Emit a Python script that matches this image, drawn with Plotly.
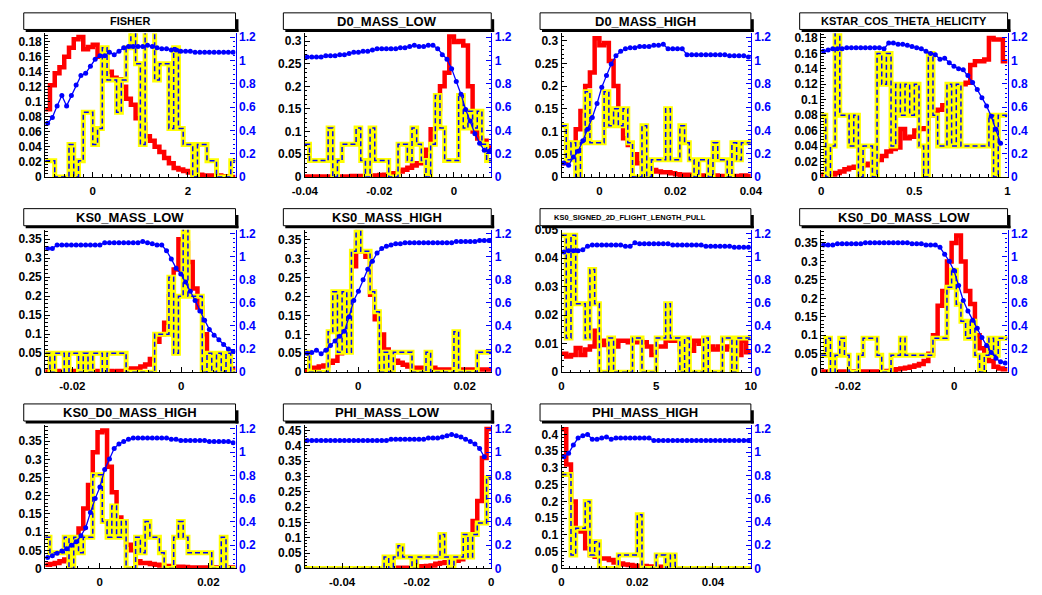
import numpy as np
import plotly.graph_objects as go

# ---------------- data ----------------
TITLES = ["FISHER", "D0_MASS_LOW", "D0_MASS_HIGH", "KSTAR_COS_THETA_HELICITY",
          "KS0_MASS_LOW", "KS0_MASS_HIGH", "KS0_SIGNED_2D_FLIGHT_LENGTH_PULL", "KS0_D0_MASS_LOW",
          "KS0_D0_MASS_HIGH", "PHI_MASS_LOW", "PHI_MASS_HIGH"]

XLIM = [(-1, 3), (-0.04, 0.01), (-0.01, 0.04), (0, 1),
        (-0.025, 0.01), (-0.01, 0.025), (0, 10), (-0.025, 0.01),
        (-0.01, 0.025), (-0.05, 0), (0, 0.05)]
YMAX = [0.191, 0.317, 0.316, 0.186, 0.375, 0.377, 0.050, 0.386, 0.395, 0.468, 0.428]
Y2MAX = 1.233

XTICK_LABELS = [["0", "2"], ["-0.04", "-0.02", "0"], ["0", "0.02", "0.04"], ["0", "0.5", "1"],
                ["-0.02", "0"], ["0", "0.02"], ["0", "5", "10"], ["-0.02", "0"],
                ["0", "0.02"], ["-0.04", "-0.02", "0"], ["0", "0.02", "0.04"]]
YT_SMALL = ["0", "0.02", "0.04", "0.06", "0.08", "0.1", "0.12", "0.14", "0.16", "0.18"]
YT_30 = ["0", "0.05", "0.1", "0.15", "0.2", "0.25", "0.3"]
YT_35 = ["0", "0.05", "0.1", "0.15", "0.2", "0.25", "0.3", "0.35"]
YT_FL = ["0", "0.01", "0.02", "0.03", "0.04", "0.05"]
YT_45 = ["0", "0.05", "0.1", "0.15", "0.2", "0.25", "0.3", "0.35", "0.4", "0.45"]
YT_40 = ["0", "0.05", "0.1", "0.15", "0.2", "0.25", "0.3", "0.35", "0.4"]
YTICK_LABELS = [YT_SMALL, YT_30, YT_30, YT_SMALL, YT_35, YT_35, YT_FL, YT_35, YT_35, YT_45, YT_40]
Y2TICK_LABELS = ["0", "0.2", "0.4", "0.6", "0.8", "1", "1.2"]

FISHER_BKG = [0.090, 0.122, 0.138, 0.146, 0.160, 0.172, 0.183, 0.186, 0.170, 0.173,
              0.176, 0.160, 0.166, 0.140, 0.132, 0.130, 0.120, 0.104, 0.096, 0.078,
              0.070, 0.054, 0.048, 0.040, 0.033, 0.025, 0.018, 0.012, 0.010, 0.008,
              0.006, 0.004, 0.003, 0.002, 0.002, 0.001, 0.002, 0.001, 0.001, 0.000]
FISHER_SIG = [0.0215, 0.0215, 0, 0, 0, 0.043, 0, 0.0215, 0.086, 0.086,
              0.043, 0.0645, 0.172, 0.129, 0.129, 0.086, 0.129, 0.172, 0.21, 0.1505,
              0.043, 0.21, 0.21, 0.129, 0.1505, 0.1505, 0.0645, 0.172, 0.0645, 0.043,
              0.043, 0, 0.043, 0.043, 0.0215, 0.0215, 0, 0, 0, 0.0215]
FISHER_EFF = [0.46, 0.51, 0.61, 0.70, 0.61, 0.70, 0.79, 0.87, 0.89, 0.95,
              1.01, 1.04, 1.04, 1.07, 1.05, 1.08, 1.11, 1.12, 1.12, 1.12,
              1.12, 1.13, 1.12, 1.11, 1.10, 1.10, 1.09, 1.09, 1.08, 1.08,
              1.08, 1.07, 1.07, 1.07, 1.07, 1.07, 1.07, 1.07, 1.07, 1.07]

D0LOW_BKG = [0.001, 0.001, 0.001, 0.001, 0.001, 0.001, 0.001, 0.001, 0.001, 0.001,
             0.002, 0.002, 0.002, 0.002, 0.002, 0.003, 0.004, 0.005, 0.006, 0.008,
             0.012, 0.016, 0.020, 0.025, 0.030, 0.040, 0.060, 0.105, 0.150, 0.200,
             0.230, 0.310, 0.298, 0.300, 0.290, 0.200, 0.100, 0.085, 0.080, 0.065]
D0LOW_SIG = [0.072, 0.036, 0.036, 0.036, 0.036, 0.108, 0, 0.036, 0.072, 0.072,
             0.072, 0.108, 0.036, 0, 0.108, 0.036, 0.036, 0.036, 0, 0,
             0.072, 0.072, 0.036, 0.108, 0.072, 0.036, 0, 0.072, 0.18, 0.108,
             0.036, 0.036, 0.036, 0.18, 0.108, 0.145, 0.108, 0.145, 0.072, 0.036]
D0LOW_EFF = [1.03, 1.03, 1.03, 1.03, 1.04, 1.04, 1.04, 1.05, 1.05, 1.06,
             1.07, 1.07, 1.08, 1.08, 1.09, 1.10, 1.10, 1.10, 1.10, 1.10,
             1.11, 1.11, 1.12, 1.13, 1.12, 1.12, 1.13, 1.13, 1.10, 1.05,
             1.01, 0.93, 0.82, 0.71, 0.58, 0.48, 0.37, 0.29, 0.23, 0.22]

D0HIGH_BKG = [0.030, 0.040, 0.070, 0.105, 0.145, 0.200, 0.230, 0.305, 0.290, 0.295,
              0.255, 0.200, 0.130, 0.085, 0.070, 0.050, 0.030, 0.022, 0.018, 0.015,
              0.012, 0.010, 0.010, 0.008, 0.006, 0.005, 0.005, 0.004, 0.004, 0.003,
              0.003, 0.003, 0.003, 0.002, 0.002, 0.002, 0.002, 0.002, 0.003, 0.002]
D0HIGH_SIG = [0.1125, 0.0375, 0.075, 0, 0.075, 0.1875, 0.075, 0.075, 0.075, 0.1875,
              0.1125, 0.15, 0.1125, 0.15, 0.075, 0, 0, 0.1125, 0, 0.0375,
              0.0375, 0.0375, 0.15, 0.0375, 0.0375, 0.1125, 0.075, 0.0375, 0, 0.0375,
              0.0375, 0, 0.075, 0.0375, 0.0375, 0, 0.075, 0.0375, 0.075, 0.075]
D0HIGH_EFF = [0.12, 0.10, 0.17, 0.22, 0.31, 0.41, 0.51, 0.63, 0.77, 0.87,
              0.97, 1.04, 1.08, 1.10, 1.11, 1.11, 1.12, 1.12, 1.12, 1.13,
              1.13, 1.14, 1.10, 1.10, 1.10, 1.10, 1.05, 1.05, 1.05, 1.05,
              1.05, 1.05, 1.05, 1.05, 1.05, 1.04, 1.04, 1.04, 1.04, 1.03]

KSTAR_BKG = [0.003, 0.002, 0.003, 0.005, 0.007, 0.010, 0.012, 0.013, 0.014, 0.015,
             0.017, 0.020, 0.022, 0.027, 0.033, 0.036, 0.038, 0.062, 0.050, 0.052,
             0.060, 0.062, 0.063, 0.080, 0.082, 0.087, 0.093, 0.100, 0.110, 0.115,
             0.120, 0.122, 0.145, 0.150, 0.150, 0.152, 0.180, 0.178, 0.178, 0.150]
KSTAR_SIG = [0.08, 0, 0.04, 0.2, 0.08, 0.08, 0.04, 0.08, 0, 0.04,
             0.04, 0, 0.16, 0.12, 0.16, 0.04, 0.12, 0.08, 0.12, 0.08,
             0.12, 0.04, 0, 0.16, 0.08, 0.04, 0.04, 0.12, 0.04, 0.12,
             0.04, 0.04, 0.04, 0.04, 0.04, 0.04, 0.08, 0, 0.08, 0.08]
KSTAR_EFF = [1.08, 1.09, 1.10, 1.10, 1.10, 1.11, 1.11, 1.11, 1.11, 1.11,
             1.11, 1.11, 1.11, 1.10, 1.15, 1.15, 1.14, 1.14, 1.13, 1.12,
             1.11, 1.10, 1.08, 1.06, 1.05, 1.01, 1.02, 0.98, 0.95, 0.93,
             0.92, 0.87, 0.81, 0.75, 0.68, 0.61, 0.52, 0.41, 0.29, None]

KS0LOW_BKG = [0.002, 0.002, 0.003, 0.002, 0.002, 0.003, 0.002, 0.002, 0.003, 0.002,
              0.003, 0.002, 0.002, 0.003, 0.002, 0.003, 0.003, 0.005, 0.010, 0.010,
              0.015, 0.020, 0.035, 0.080, 0.100, 0.130, 0.200, 0.270, 0.350, 0.340,
              0.290, 0.220, 0.170, 0.100, 0.050, 0.045, 0.030, 0.020, 0.015, 0.010]
KS0LOW_SIG = [0.05, 0, 0.05, 0.05, 0, 0.05, 0.05, 0, 0.05, 0,
              0.05, 0.05, 0, 0.05, 0.05, 0.05, 0.05, 0, 0, 0,
              0, 0, 0, 0.1, 0.1, 0.1, 0.25, 0.05, 0.2, 0.38,
              0.2, 0.2, 0.2, 0, 0.05, 0, 0.05, 0, 0.05, 0]
KS0LOW_EFF = [1.07, 1.07, 1.10, 1.10, 1.10, 1.10, 1.10, 1.10, 1.10, 1.10,
              1.10, 1.10, 1.12, 1.12, 1.12, 1.12, 1.12, 1.12, 1.12, 1.12,
              1.13, 1.12, 1.11, 1.10, 1.10, 1.05, 0.98, 0.90, 0.85, 0.78,
              0.70, 0.62, 0.53, 0.45, 0.37, 0.32, 0.28, 0.24, 0.20, 0.18]

KS0HIGH_BKG = [0.005, 0.005, 0.012, 0.015, 0.018, 0.025, 0.030, 0.050, 0.095, 0.170,
               0.280, 0.345, 0.320, 0.305, 0.205, 0.140, 0.100, 0.060, 0.040, 0.030,
               0.025, 0.020, 0.015, 0.012, 0.012, 0.012, 0.012, 0.012, 0.007, 0.007,
               0.007, 0.007, 0.007, 0.007, 0.007, 0.007, 0.007, 0.007, 0.007, 0.007]
KS0HIGH_SIG = [0.053, 0, 0, 0, 0, 0.107, 0.213, 0.053, 0.213, 0.053,
               0.32, 0.38, 0.32, 0.32, 0.213, 0.16, 0, 0.053, 0, 0.053,
               0.053, 0.053, 0.053, 0, 0, 0, 0.053, 0, 0, 0,
               0, 0, 0.107, 0, 0, 0, 0, 0.053, 0.053, 0.053]
KS0HIGH_EFF = [0.165, 0.17, 0.19, 0.16, 0.19, 0.23, 0.27, 0.31, 0.355, 0.48,
               0.62, 0.70, 0.80, 0.89, 0.96, 1.03, 1.07, 1.09, 1.10, 1.11,
               1.11, 1.12, 1.12, 1.12, 1.12, 1.12, 1.12, 1.12, 1.12, 1.12,
               1.12, 1.12, 1.13, 1.13, 1.13, 1.13, 1.13, 1.14, 1.14, 1.14]

KS0FL_BKG = [0.0065, 0.0055, 0.006, 0.0085, 0.006, 0.008, 0.009, 0.0145, 0.011, 0.0095,
             0.008, 0.009, 0.011, 0.011, 0.0105, 0.0105, 0.011, 0.0105, 0.009, 0.006,
             0.009, 0.009, 0.0115, 0.011, 0.011, 0.008, 0.008, 0.0075, 0.011, 0.010,
             0.0075, 0.009, 0.008, 0.009, 0.008, 0.009, 0.0105, 0.006, 0.011, 0.007]
KS0FL_SIG = [0.048, 0.012, 0.048, 0.024, 0.024, 0.012, 0.036, 0.024, 0, 0,
             0.012, 0, 0, 0, 0, 0.012, 0.012, 0, 0, 0,
             0.012, 0.012, 0.024, 0.012, 0.012, 0, 0.012, 0, 0, 0,
             0.012, 0, 0, 0, 0.012, 0.012, 0, 0.012, 0.012, 0.012]
KS0FL_EFF = [1.04, 1.05, 1.05, 1.05, 1.06, 1.09, 1.10, 1.10, 1.10, 1.10,
             1.10, 1.10, 1.10, 1.09, 1.09, 1.12, 1.11, 1.11, 1.11, 1.11,
             1.11, 1.11, 1.11, 1.10, 1.10, 1.10, 1.10, 1.10, 1.10, 1.10,
             1.09, 1.09, 1.09, 1.09, 1.09, 1.09, 1.08, 1.08, 1.08, 1.08]

KS0D0LOW_BKG = [0.002, 0.002, 0.002, 0.002, 0.002, 0.002, 0.002, 0.002, 0.002, 0.002,
                0.002, 0.002, 0.002, 0.002, 0.003, 0.005, 0.008, 0.010, 0.012, 0.015,
                0.018, 0.022, 0.030, 0.050, 0.100, 0.180, 0.220, 0.300, 0.350, 0.370,
                0.300, 0.220, 0.185, 0.100, 0.065, 0.045, 0.030, 0.015, 0.010, 0.008]
KS0D0LOW_SIG = [0.046, 0.092, 0, 0.046, 0.092, 0.046, 0, 0, 0.046, 0.092,
                0.092, 0.092, 0.046, 0, 0, 0.046, 0.046, 0.092, 0.046, 0.046,
                0.046, 0.046, 0.046, 0.046, 0.092, 0.092, 0.092, 0.23, 0.276, 0.184,
                0.138, 0.092, 0.138, 0.046, 0, 0.046, 0.092, 0.046, 0.092, 0.092]
KS0D0LOW_EFF = [1.10, 1.10, 1.10, 1.11, 1.11, 1.11, 1.11, 1.11, 1.11, 1.12,
                1.12, 1.12, 1.12, 1.12, 1.12, 1.12, 1.12, 1.12, 1.12, 1.11,
                1.11, 1.11, 1.10, 1.10, 1.10, 1.08, 1.02, 0.96, 0.88, 0.75,
                0.62, 0.53, 0.45, 0.38, 0.30, 0.23, 0.17, 0.12, 0.09, 0.08]

KS0D0HIGH_BKG = [0.010, 0.012, 0.015, 0.020, 0.025, 0.040, 0.070, 0.110, 0.165, 0.230,
                 0.320, 0.375, 0.380, 0.280, 0.210, 0.140, 0.130, 0.065, 0.050, 0.020,
                 0.015, 0.015, 0.012, 0.010, 0.008, 0.007, 0.006, 0.005, 0.005, 0.004,
                 0.003, 0.003, 0.003, 0.003, 0.003, 0.003, 0.003, 0.003, 0.003, 0.003]
KS0D0HIGH_SIG = [0.086, 0.043, 0.043, 0.043, 0.086, 0, 0.086, 0.043, 0.086, 0.086,
                 0.258, 0.258, 0.129, 0.086, 0.172, 0.086, 0.129, 0, 0, 0.086,
                 0.043, 0.129, 0.086, 0.086, 0.043, 0, 0, 0.086, 0.129, 0.086,
                 0.043, 0.043, 0.043, 0.043, 0.043, 0, 0, 0.086, 0, 0]
KS0D0HIGH_EFF = [0.095, 0.11, 0.13, 0.15, 0.17, 0.20, 0.23, 0.28, 0.35, 0.48,
                 0.60, 0.70, 0.85, 0.94, 1.03, 1.07, 1.09, 1.11, 1.12, 1.12,
                 1.12, 1.12, 1.12, 1.12, 1.12, 1.12, 1.11, 1.11, 1.10, 1.10,
                 1.10, 1.10, 1.10, 1.10, 1.09, 1.09, 1.09, 1.09, 1.09, 1.08]

PHILOW_BKG = [0, 0, 0, 0, 0, 0, 0, 0, 0, 0,
              0, 0, 0, 0, 0, 0, 0, 0.003, 0.002, 0.002,
              0.002, 0.002, 0.002, 0.002, 0.006, 0.007, 0.008, 0.010, 0.015, 0.018,
              0.020, 0.020, 0.025, 0.030, 0.040, 0.100, 0.155, 0.220, 0.360, 0.455]
PHILOW_SIG = [0, 0, 0, 0, 0, 0, 0, 0, 0, 0,
              0, 0, 0, 0, 0, 0, 0, 0.037, 0, 0.037,
              0.074, 0.037, 0.037, 0, 0.037, 0.037, 0.037, 0.037, 0.037, 0.111,
              0.037, 0, 0.037, 0.037, 0.111, 0.037, 0.111, 0.148, 0.148, 0.296]
PHILOW_EFF = [1.10, 1.10, 1.10, 1.10, 1.10, 1.10, 1.10, 1.10, 1.10, 1.10,
              1.10, 1.10, 1.10, 1.10, 1.10, 1.10, 1.10, 1.10, 1.11, 1.11,
              1.11, 1.11, 1.11, 1.11, 1.11, 1.11, 1.12, 1.12, 1.12, 1.13,
              1.14, 1.15, 1.14, 1.13, 1.11, 1.09, 1.07, 1.03, 0.96, None]

PHIHIGH_BKG = [0.415, 0.310, 0.200, 0.120, 0.110, 0.060, 0.040, 0.035, 0.030, 0.030,
               0.025, 0.018, 0.015, 0.012, 0.010, 0.008, 0.008, 0.007, 0.006, 0.006,
               0.005, 0.003, 0.001, 0.001, 0.001, 0.001, 0.001, 0.001, 0.001, 0,
               0, 0, 0, 0, 0, 0, 0, 0, 0, 0]
PHIHIGH_SIG = [0.28, 0.28, 0.04, 0.12, 0.12, 0.2, 0.04, 0.08, 0, 0,
               0, 0, 0.04, 0.04, 0.04, 0.04, 0.16, 0, 0, 0,
               0.04, 0.04, 0, 0.04, 0, 0, 0, 0, 0, 0,
               0, 0, 0, 0, 0, 0, 0, 0, 0, 0]
PHIHIGH_EFF = [0.96, 0.99, 1.06, 1.12, 1.14, 1.15, 1.11, 1.11, 1.12, 1.13,
               1.11, 1.12, 1.12, 1.12, 1.12, 1.12, 1.12, 1.12, 1.12, 1.10,
               1.10, 1.10, 1.10, 1.10, 1.10, 1.10, 1.10, 1.10, 1.10, 1.10,
               1.10, 1.10, 1.10, 1.10, 1.10, 1.10, 1.10, 1.10, 1.10, 1.10]

BKG = [FISHER_BKG, D0LOW_BKG, D0HIGH_BKG, KSTAR_BKG, KS0LOW_BKG, KS0HIGH_BKG,
       KS0FL_BKG, KS0D0LOW_BKG, KS0D0HIGH_BKG, PHILOW_BKG, PHIHIGH_BKG]
SIG = [FISHER_SIG, D0LOW_SIG, D0HIGH_SIG, KSTAR_SIG, KS0LOW_SIG, KS0HIGH_SIG,
       KS0FL_SIG, KS0D0LOW_SIG, KS0D0HIGH_SIG, PHILOW_SIG, PHIHIGH_SIG]
EFF = [FISHER_EFF, D0LOW_EFF, D0HIGH_EFF, KSTAR_EFF, KS0LOW_EFF, KS0HIGH_EFF,
       KS0FL_EFF, KS0D0LOW_EFF, KS0D0HIGH_EFF, PHILOW_EFF, PHIHIGH_EFF]

# ---------------- layout / style ----------------
W, H = 1042, 595
COLS = [(33, 228), (299, 490), (562, 756), (828, 1019)]
ROWS = [(27, 174), (228, 374), (428, 575)]
TROWS = [(6, 23), (206.5, 224), (406.5, 424)]
TITLE_SIZE = [11, 13, 13, 11, 13, 13, 7.5, 13, 13, 13, 13]
TITLE_DX = [0, 0, 0, 0, 0, 0, -16, 0, 0, 0, 0]
FONT = "Liberation Sans, Arial, Helvetica, sans-serif"
C_RED, C_YEL, C_BLUE = "#ff0000", "#ffff00", "#0000ff"


def px(x):
    return x / W


def py(y):
    return 1 - y / H


fig = go.Figure()
layout = dict(width=W, height=H, margin=dict(l=0, r=0, t=0, b=0), autosize=False,
              paper_bgcolor="white", plot_bgcolor="white", showlegend=False)
shapes, annotations = [], []
tfont = lambda col, s=12: dict(family=FONT, size=s, color=col, weight="bold")

for k, name in enumerate(TITLES):
    r, c = divmod(k, 4)
    xl, xr = COLS[c]
    yt, yb = ROWS[r]
    xi, yi, y2i = k + 1, 2 * k + 1, 2 * k + 2
    xref = "x" if xi == 1 else f"x{xi}"
    yref = "y" if yi == 1 else f"y{yi}"
    y2ref = f"y{y2i}"
    lo, hi = XLIM[k]
    nb = len(BKG[k])
    edges = np.linspace(lo, hi, nb + 1)
    centers = 0.5 * (edges[:-1] + edges[1:])

    fig.add_trace(go.Scatter(x=edges, y=list(BKG[k]) + [BKG[k][-1]], mode="lines",
                             line=dict(shape="hv", color=C_RED, width=4.5),
                             xaxis=xref, yaxis=yref, hoverinfo="skip"))
    fig.add_trace(go.Scatter(x=edges, y=list(SIG[k]) + [SIG[k][-1]], mode="lines",
                             line=dict(shape="hv", color=C_YEL, width=5),
                             xaxis=xref, yaxis=yref, hoverinfo="skip"))
    fig.add_trace(go.Scatter(x=edges, y=list(SIG[k]) + [SIG[k][-1]], mode="lines",
                             line=dict(shape="hv", color=C_BLUE, width=1.5, dash="5px,3px"),
                             xaxis=xref, yaxis=yref, hoverinfo="skip"))
    fig.add_trace(go.Scatter(x=centers, y=EFF[k], mode="lines+markers",
                             line=dict(color=C_BLUE, width=1.3),
                             marker=dict(color=C_BLUE, size=5),
                             xaxis=xref, yaxis=y2ref, hoverinfo="skip"))

    xt = [float(s) for s in XTICK_LABELS[k]]
    ytv = [float(s) for s in YTICK_LABELS[k]]
    y2v = [float(s) for s in Y2TICK_LABELS]
    xdom = [px(xl), px(xr)]
    ydom = [py(yb), py(yt)]

    layout["xaxis" if xi == 1 else f"xaxis{xi}"] = dict(
        domain=xdom, range=[lo, hi], anchor=yref, showline=True, linecolor="black",
        linewidth=1.2, ticks="inside", ticklen=5, tickcolor="black", tickmode="array",
        tickvals=xt, ticktext=XTICK_LABELS[k], tickfont=tfont("black", 11.5),
        ticklabelstandoff=3, showgrid=False, zeroline=False,
        minor=dict(ticks="inside", ticklen=2.5, tickcolor="black", tickmode="linear",
                   tick0=xt[0], dtick=(xt[1] - xt[0]) / 10, showgrid=False))
    layout["yaxis" if yi == 1 else f"yaxis{yi}"] = dict(
        domain=ydom, range=[0, YMAX[k]], anchor=xref, showline=True, linecolor="black",
        linewidth=1, ticks="inside", ticklen=5, tickcolor="black", tickmode="array",
        tickvals=ytv, ticktext=YTICK_LABELS[k], tickfont=tfont("black"),
        showgrid=False, zeroline=False,
        minor=dict(ticks="inside", ticklen=2.5, tickcolor="black", tickmode="linear",
                   tick0=0, dtick=(ytv[1] - ytv[0]) / 5, showgrid=False))
    layout[f"yaxis{y2i}"] = dict(
        domain=ydom, overlaying=yref, side="right", anchor=xref, range=[0, Y2MAX],
        showline=True, linecolor=C_BLUE, linewidth=1.2, ticks="inside", ticklen=5,
        tickcolor=C_BLUE, tickmode="array", tickvals=y2v, ticktext=Y2TICK_LABELS,
        tickfont=tfont(C_BLUE), showgrid=False, zeroline=False,
        minor=dict(ticks="inside", ticklen=2.5, tickcolor=C_BLUE, tickmode="linear",
                   tick0=0, dtick=0.04, showgrid=False))

    # title box with ROOT-like shadow
    tl, tr = xl - 22, xr
    tt, tb = TROWS[r]
    shapes.append(dict(type="rect", xref="paper", yref="paper", x0=px(tr), x1=px(tr + 3),
                       y0=py(tb + 2.5), y1=py(tt + 6.5), fillcolor="black", line=dict(width=0)))
    shapes.append(dict(type="rect", xref="paper", yref="paper", x0=px(tl + 2), x1=px(tr + 3),
                       y0=py(tb + 2.5), y1=py(tb), fillcolor="black", line=dict(width=0)))
    shapes.append(dict(type="rect", xref="paper", yref="paper", x0=px(tl), x1=px(tr),
                       y0=py(tb), y1=py(tt), fillcolor="white",
                       line=dict(color="black", width=1)))
    annotations.append(dict(text=name, xref="paper", yref="paper",
                            x=px((tl + tr) / 2 + TITLE_DX[k]), y=py((tt + tb) / 2),
                            xanchor="center", yanchor="middle", showarrow=False,
                            font=dict(family=FONT, size=TITLE_SIZE[k], color="black",
                                      weight="bold")))

layout["shapes"] = shapes
layout["annotations"] = annotations
fig.update_layout(**layout)
fig.write_html("out.html", config={"displayModeBar": False},
               post_script="document.body.style.margin='0';document.body.style.padding='0';"
                           "document.body.style.overflow='hidden';")
